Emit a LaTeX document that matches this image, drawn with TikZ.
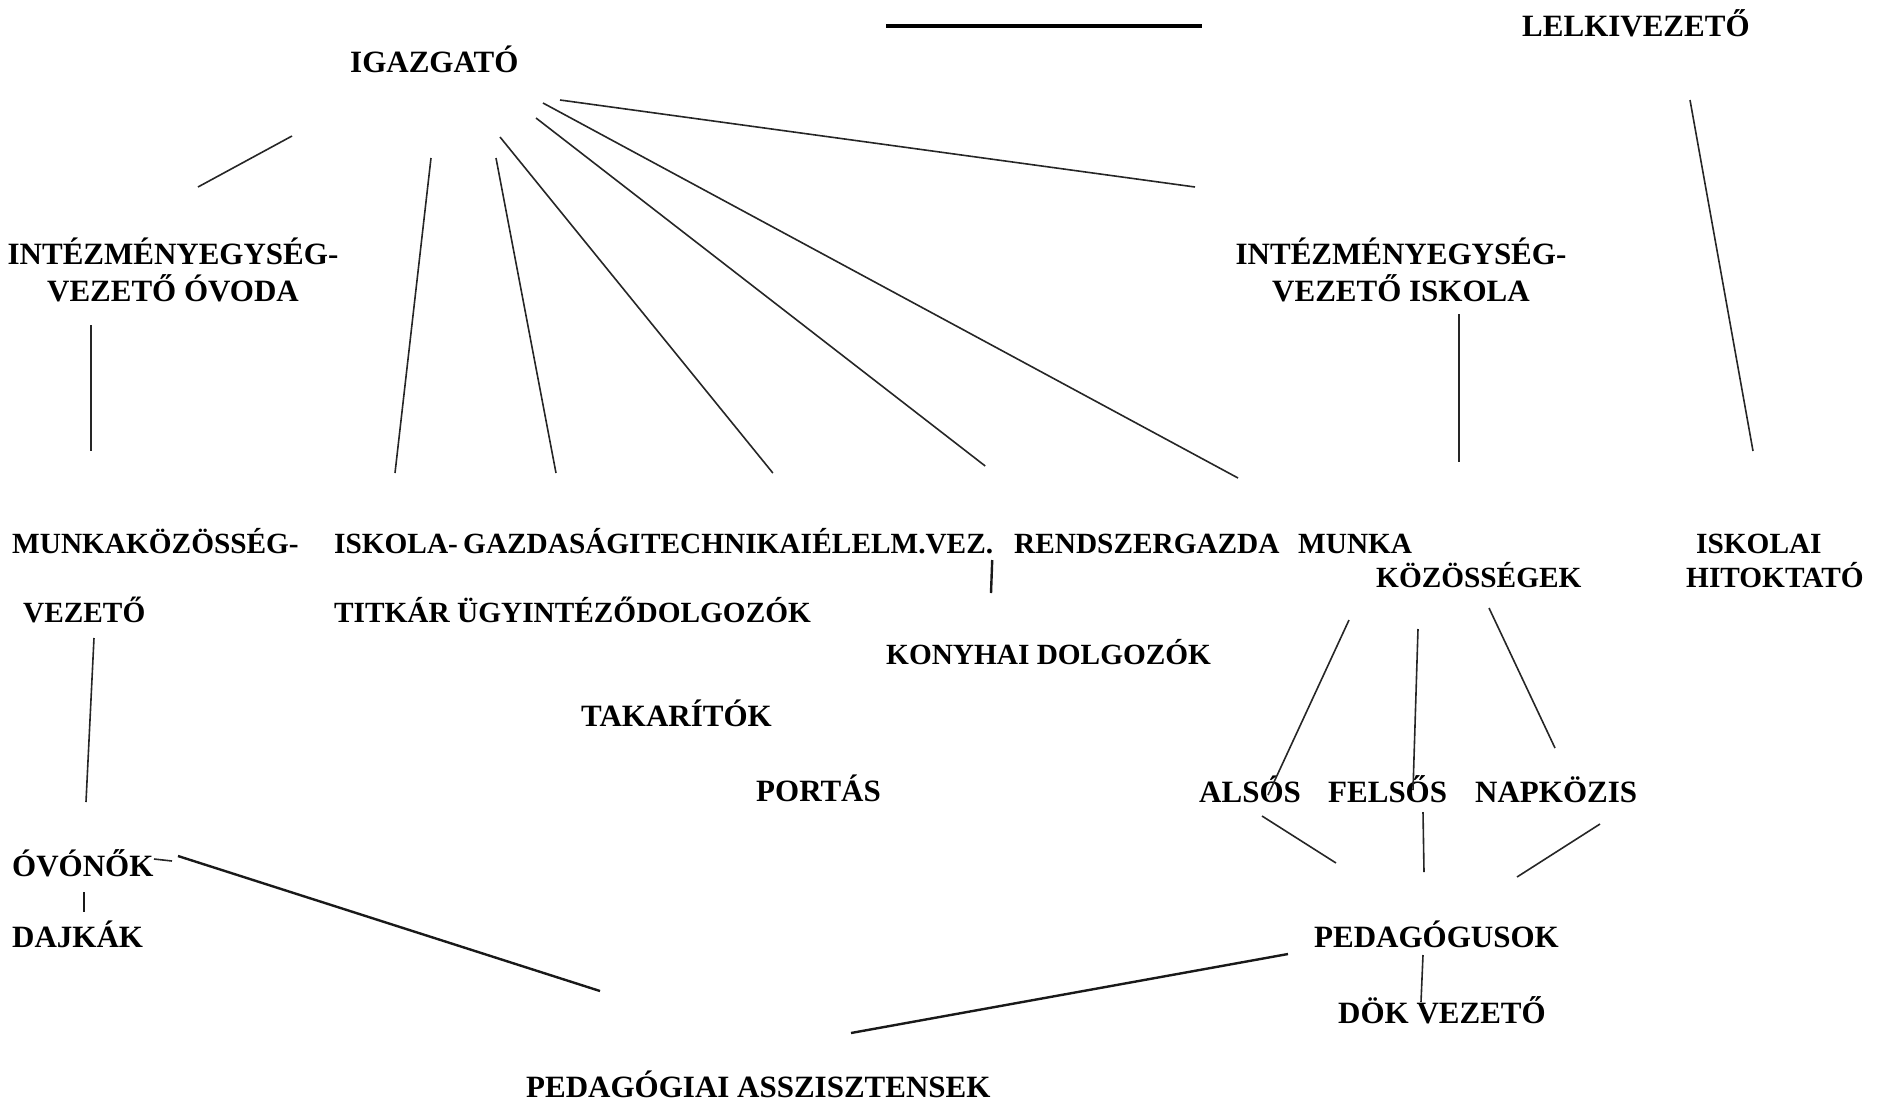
\documentclass[tikz,border=0pt]{standalone}
\usepackage{fontspec}
\setmainfont{Liberation Serif}
\usepackage{tikz}
\usetikzlibrary{positioning,calc}

\begin{document}
\begin{tikzpicture}
[
	x=1pt, y=-1pt,
	lbl/.style={font=\fontsize{31}{37}\selectfont\bfseries, inner sep=0pt, anchor=base west},
	sml/.style={lbl, font=\fontsize{29.3}{35}\selectfont\bfseries},
	conn/.style={line width=1.6pt, draw=black!85},
	bold conn/.style={line width=2.4pt, draw=black!90},
]
	\useasboundingbox (0,0) rectangle (1882,1101);

	\begin{scope}
		\node[lbl] (igaz) at (350,72) {IGAZGATÓ};
		\node[lbl] (lelki) at (1522,36) {LELKIVEZETŐ};
		\node[lbl,align=center,anchor=center] (ovoda) at (173,270) {INTÉZMÉNYEGYSÉG-\\VEZETŐ ÓVODA};
		\node[lbl,align=center,anchor=center] (iskola) at (1401,270) {INTÉZMÉNYEGYSÉG-\\VEZETŐ ISKOLA};
		\coordinate (topl) at (886,26);
		\coordinate (topr) at (1202,26);
	\end{scope}

	\begin{scope}
		\node[sml] (mkv) at (12,553) {MUNKAKÖZÖSSÉG-};
		\node[sml] (mkvb) at (23,622) {VEZETŐ};
		\node[sml] (isk) at (334,553) {ISKOLA-};
		\node[sml] (titkar) at (334,622) {TITKÁR};
		\node[sml] (gazd) at (463,553) {GAZDASÁGI};
		\node[sml] (tech) at (gazd.base east) {TECHNIKAI};
		\node[sml] (elelm) at (tech.base east) {ÉLELM.VEZ.};
		\node[sml] (ugyint) at (457,622) {ÜGYINTÉZŐ};
		\node[sml] (dolg) at (ugyint.base east) {DOLGOZÓK};
		\node[sml] (rendsz) at (1014,553) {RENDSZERGAZDA};
		\node[sml] (munka) at (1298,553) {MUNKA};
		\node[sml] (kozoss) at (1376,587) {KÖZÖSSÉGEK};
		\node[sml] (iskolai) at (1696,553) {ISKOLAI};
		\node[sml] (hitokt) at (1686,587) {HITOKTATÓ};
		\node[sml] (konyha) at (886,664) {KONYHAI DOLGOZÓK};
	\end{scope}

	\begin{scope}
		\node[lbl] (takar) at (581,726) {TAKARÍTÓK};
		\node[lbl] (portas) at (756,801) {PORTÁS};
		\node[lbl] (alsos) at (1199,802) {ALSÓS};
		\node[lbl] (felsos) at (1328,802) {FELSŐS};
		\node[lbl] (napk) at (1475,802) {NAPKÖZIS};
		\node[lbl] (ovonok) at (12,876) {ÓVÓNŐK};
		\node[lbl] (dajkak) at (12,947) {DAJKÁK};
		\node[lbl] (pedag) at (1314,947) {PEDAGÓGUSOK};
		\node[lbl] (dok) at (1338,1023) {DÖK VEZETŐ};
		\node[lbl] (pedassz) at (526,1097) {PEDAGÓGIAI ASSZISZTENSEK};
	\end{scope}

	\draw[line width=3.5pt] (topl) -- (topr);

	\draw[conn] ([shift={(-58,64)}]igaz.base west) -- ([shift={(25,-83)}]ovoda.center);
	\draw[conn] ([shift={(81,86)}]igaz.base west) -- ([shift={(61,-80)}]isk.base west);
	\draw[conn] ([shift={(146,86)}]igaz.base west) -- ([shift={(93,-80)}]gazd.base west);
	\draw[conn] ([shift={(150,65)}]igaz.base west) -- ([shift={(132,-80)}]tech.base west);
	\draw[conn] ([shift={(186,46)}]igaz.base west) -- ([shift={(173,-87)}]elelm.base west);
	\draw[conn] ([shift={(193,31)}]igaz.base west) -- ([shift={(-60,-75)}]munka.base west);
	\draw[conn] ([shift={(210,28)}]igaz.base west) -- ([shift={(-206,-83)}]iskola.center);
	\draw[conn] ([shift={(168,64)}]lelki.base west) -- ([shift={(57,-102)}]iskolai.base west);
	\draw[conn] ([shift={(58,44)}]iskola.center) -- ([shift={(83,-125)}]kozoss.base west);
	\draw[conn] ([shift={(-82,55)}]ovoda.center) -- ([shift={(79,-102)}]mkv.base west);
	\draw[conn] ([shift={(71,16)}]mkvb.base west) -- ([shift={(74,-74)}]ovonok.base west);
	\draw[bold conn] ([shift={(180,7)}]elelm.base west) -- ([shift={(105,-71)}]konyha.base west);
	\draw[bold conn] ([shift={(72,16)}]ovonok.base west) -- ([shift={(72,-35)}]dajkak.base west);
	\draw[conn] ([shift={(142,-17)}]ovonok.base west) -- ([shift={(160,-15)}]ovonok.base west);
	\draw[bold conn] ([shift={(166,-20)}]ovonok.base west) -- ([shift={(74,-106)}]pedassz.base west);
	\draw[bold conn] ([shift={(-26,7)}]pedag.base west) -- ([shift={(325,-64)}]pedassz.base west);

	\draw[conn] ([shift={(-27,33)}]kozoss.base west) -- ([shift={(69,-7)}]alsos.base west);
	\draw[conn] ([shift={(42,42)}]kozoss.base west) -- ([shift={(85,-12)}]felsos.base west);
	\draw[conn] ([shift={(113,21)}]kozoss.base west) -- ([shift={(80,-54)}]napk.base west);
	\draw[conn] ([shift={(63,14)}]alsos.base west) -- ([shift={(22,-84)}]pedag.base west);
	\draw[conn] ([shift={(95,10)}]felsos.base west) -- ([shift={(110,-75)}]pedag.base west);
	\draw[conn] ([shift={(125,22)}]napk.base west) -- ([shift={(203,-70)}]pedag.base west);
	\draw[conn] ([shift={(109,8)}]pedag.base west) -- ([shift={(83,-21)}]dok.base west);
\end{tikzpicture}
\end{document}
